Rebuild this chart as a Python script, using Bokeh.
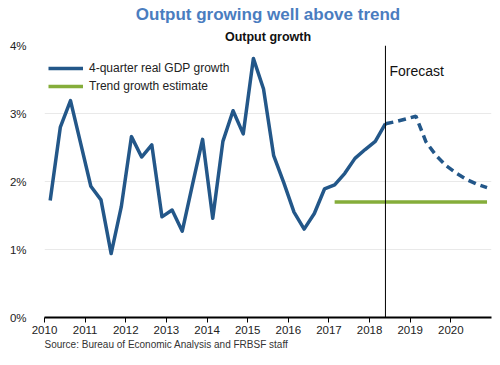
from bokeh.plotting import figure
from bokeh.models import (Span, Label, Legend, LegendItem, FixedTicker,
                          PrintfTickFormatter, Title, ColumnDataSource)
from bokeh.embed import file_html
from bokeh.resources import INLINE

# ---------------- data ----------------
hist_quarters = [f"{y}Q{q}" for y in range(2010, 2019) for q in range(1, 5)][:34]
hist_gdp = [1.72, 2.80, 3.19, 2.56, 1.93, 1.73, 0.94, 1.63,
            2.66, 2.36, 2.54, 1.48, 1.58, 1.27, 1.95, 2.62,
            1.46, 2.59, 3.04, 2.70, 3.81, 3.36, 2.38, 1.98,
            1.55, 1.30, 1.53, 1.89, 1.95, 2.12, 2.34, 2.47,
            2.59, 2.85]
fcst_quarters = ["2018Q2", "2018Q3", "2018Q4", "2019Q1", "2019Q2", "2019Q3",
                 "2019Q4", "2020Q1", "2020Q2", "2020Q3", "2020Q4"]
fcst_gdp = [2.85, 2.88, 2.92, 2.96, 2.58, 2.38, 2.23, 2.12, 2.03, 1.96, 1.91]
trend_quarters = ["2017Q1", "2020Q4"]
trend_growth = [1.70, 1.70]
forecast_start = "2018Q2"
x_ticks = list(range(2010, 2021))
y_ticks = [0, 1, 2, 3, 4]

TITLE = "Output growing well above trend"
SUBTITLE = "Output growth"
SOURCE = "Source: Bureau of Economic Analysis and FRBSF staff"


def qx(s):
    y, q = int(s[:4]), int(s[5])
    return y + (q - 1) / 4 + 0.14


BLUE = "#235789"
GREEN = "#85ad3a"
FONT = "Liberation Sans"

p = figure(width=492, height=349, output_backend="svg", toolbar_location=None,
           x_range=(2010, 2021), y_range=(0, 4),
           min_border_left=44, min_border_right=1, min_border_top=45,
           min_border_bottom=0)
p.outline_line_color = None
p.background_fill_color = "white"

# titles (p.title is outermost; added titles sit closer to the frame)
p.title.text = TITLE
p.title.align = "center"
p.title.text_font = FONT
p.title.text_font_size = "17px"
p.title.text_font_style = "bold"
p.title.text_color = "#4a7dbf"
p.title.standoff = 3
p.add_layout(Title(text=SUBTITLE, align="center", text_font=FONT,
                   text_font_size="12.5px", text_font_style="bold",
                   text_color="#111111", standoff=4), "above")
p.add_layout(Title(text=SOURCE, align="left", text_font=FONT,
                   text_font_size="10px", text_font_style="normal",
                   text_color="#333333", standoff=0, offset=0), "below")

# data renderers
hist_src = ColumnDataSource(dict(x=[qx(s) for s in hist_quarters], y=hist_gdp))
fcst_src = ColumnDataSource(dict(x=[qx(s) for s in fcst_quarters], y=fcst_gdp))
trend_src = ColumnDataSource(dict(x=[qx(s) for s in trend_quarters], y=trend_growth))

r_trend = p.line("x", "y", source=trend_src, line_color=GREEN, line_width=3.5)
r_hist = p.line("x", "y", source=hist_src, line_color=BLUE, line_width=3.5,
                line_join="round")
p.line("x", "y", source=fcst_src, line_color=BLUE, line_width=3.5,
       line_dash="8 5")

p.add_layout(Span(location=qx(forecast_start), dimension="height",
                  line_color="#000000", line_width=1))
p.add_layout(Label(x=qx(forecast_start), y=3.62, x_offset=4, text="Forecast",
                   text_font=FONT, text_font_size="14px", text_color="#111111",
                   text_baseline="middle"))

# axes
p.xaxis.ticker = FixedTicker(ticks=x_ticks)
p.xaxis.axis_line_color = "#000000"
p.xaxis.axis_line_width = 2
p.xaxis.major_tick_line_color = "#000000"
p.xaxis.major_tick_out = 5
p.xaxis.major_tick_in = 0
p.xaxis.minor_tick_line_color = None
p.xaxis.major_label_text_font = FONT
p.xaxis.major_label_text_font_size = "11.5px"
p.xaxis.major_label_text_color = "#222222"
p.xaxis.major_label_standoff = 3

p.yaxis.ticker = FixedTicker(ticks=y_ticks)
p.yaxis.formatter = PrintfTickFormatter(format="%d%%")
p.yaxis.axis_line_color = None
p.yaxis.major_tick_line_color = None
p.yaxis.minor_tick_line_color = None
p.yaxis.major_label_text_font = FONT
p.yaxis.major_label_text_font_size = "11.5px"
p.yaxis.major_label_text_color = "#222222"
p.yaxis.major_label_standoff = 12

p.xgrid.grid_line_color = None
p.ygrid.grid_line_color = "#e9e9e9"
p.ygrid.grid_line_width = 1

legend = Legend(items=[LegendItem(label="4-quarter real GDP growth", renderers=[r_hist]),
                       LegendItem(label="Trend growth estimate", renderers=[r_trend])],
                location=(4, 222), padding=0, margin=0, spacing=0,
                glyph_width=35, glyph_height=18, label_height=18,
                label_standoff=6, label_text_font=FONT,
                label_text_font_size="12px", label_text_color="#222222",
                background_fill_alpha=0, border_line_color=None)
p.add_layout(legend)

open("out.html", "w").write(file_html(p, INLINE))
